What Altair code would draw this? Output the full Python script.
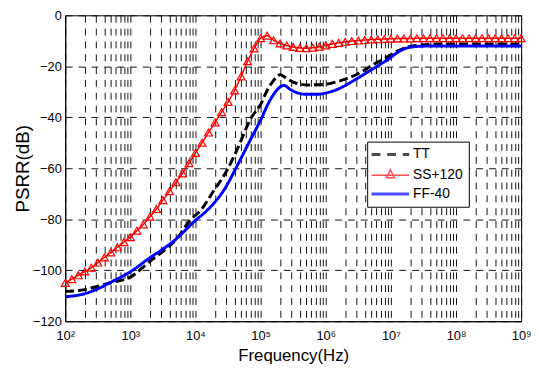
import altair as alt
import pandas as pd

# ---- data (log10 of frequency, dB) ----
series_names = ["TT", "SS+120", "FF-40"]
series_colors = ["#000000", "#ff0000", "#0000ff"]

tt_logf = [2.0, 2.3, 2.5, 2.7, 3.0, 3.3, 3.5, 3.7, 3.93, 4.08, 4.28, 4.48, 4.65, 4.86,
           5.0, 5.09, 5.2, 5.3, 5.4, 5.5, 5.6, 5.75, 5.9, 6.0, 6.15, 6.3, 6.45, 6.6,
           6.75, 6.9, 7.0, 7.1, 7.25, 7.4, 7.6, 8.0, 9.0]
tt_db = [-108.3, -107.6, -106.3, -104.9, -102.7, -96.5, -92.6, -88.0, -80.0, -76.5, -68.8,
         -61.0, -52.0, -40.0, -35.0, -30.0, -25.5, -23.3, -24.8, -26.2, -27.0, -27.3,
         -27.2, -27.0, -26.2, -25.0, -23.5, -21.4, -19.0, -17.0, -15.5, -14.0, -12.5,
         -11.8, -11.4, -11.2, -11.2]

ss_logf = [round(2.0 + 0.1 * i, 1) for i in range(71)]
ss_db = [-105.0, -103.5, -102.0, -100.5, -99.0, -97.0, -95.0, -93.0, -91.0, -89.0,
         -87.0, -84.5, -82.0, -79.0, -76.0, -72.5, -69.0, -65.5, -62.0, -58.0,
         -54.0, -50.0, -46.0, -42.0, -38.0, -34.0, -29.5, -24.0, -18.0, -13.0,
         -9.0, -8.0, -9.8, -11.0, -11.8, -12.4, -12.8, -12.9, -12.7, -12.3,
         -11.8, -11.2, -10.8, -10.4, -10.1, -9.9, -9.7, -9.5, -9.4, -9.3,
         -9.2, -9.1, -9.1, -9.1, -9.0, -9.0, -9.0, -9.0, -9.0, -9.0,
         -9.0, -9.0, -9.0, -9.0, -9.0, -9.0, -9.0, -9.0, -9.0, -9.0, -9.0]

ff_logf = [2.0, 2.3, 2.5, 2.7, 3.0, 3.3, 3.5, 3.7, 4.0, 4.15, 4.3, 4.45, 4.62, 4.82,
           5.02, 5.1, 5.2, 5.29, 5.36, 5.45, 5.55, 5.7, 5.85, 6.0, 6.2, 6.35, 6.5,
           6.7, 6.85, 6.95, 7.05, 7.16, 7.3, 7.5, 8.0, 9.0]
ff_db = [-110.4, -109.2, -107.3, -104.7, -100.6, -95.1, -91.7, -87.8, -80.4, -77.2,
         -73.2, -68.0, -60.0, -50.0, -40.0, -35.5, -31.0, -28.3, -27.5, -29.0, -30.3,
         -31.0, -31.0, -30.5, -28.8, -26.8, -24.5, -21.4, -19.0, -17.5, -15.5, -13.7,
         -12.5, -12.1, -12.0, -12.0]

x_decades = [2, 3, 4, 5, 6, 7, 8, 9]
y_ticks = [-120, -100, -80, -60, -40, -20, 0]

rows = []
for name, lf, db in [("TT", tt_logf, tt_db), ("SS+120", ss_logf, ss_db), ("FF-40", ff_logf, ff_db)]:
    for a, b in zip(lf, db):
        rows.append({"f": 10 ** a, "db": b, "series": name})
df = pd.DataFrame(rows)

x_grid_values = [m * 10 ** e for e in x_decades[:-1] for m in range(1, 10)] + [10 ** x_decades[-1]]

sup = "['\u2070','\u00b9','\u00b2','\u00b3','\u2074','\u2075','\u2076','\u2077','\u2078','\u2079']"
label_expr = ("abs(log(datum.value)/LN10 - round(log(datum.value)/LN10)) < 0.001 ? "
              "'10' + " + sup + "[round(log(datum.value)/LN10)] : ''")

FONT = "Liberation Sans"
GRID = "#111111"

x_enc = alt.X(
    "f:Q",
    scale=alt.Scale(type="log", domain=[100, 1e9], nice=False),
    axis=alt.Axis(values=x_grid_values, labelExpr=label_expr, title="Frequency(Hz)",
                  grid=True, gridDash=[7, 6], gridColor=GRID, gridWidth=1,
                  ticks=False, tickSize=0, labelOverlap=False, labelFlush=False,
                  labelPadding=9, labelFontSize=13, labelColor="black",
                  titleFontSize=17, titleFontWeight="normal", titleColor="black",
                  titlePadding=5, domainColor="black"),
)
y_enc = alt.Y(
    "db:Q",
    scale=alt.Scale(domain=[-120, 0], nice=False),
    axis=alt.Axis(values=y_ticks, title="PSRR(dB)", grid=True, gridDash=[7, 6],
                  gridColor=GRID, gridWidth=1, ticks=False, tickSize=0,
                  labelPadding=4, labelFontSize=13, labelColor="black",
                  titleFontSize=19, titleFontWeight="normal", titleColor="black",
                  titlePadding=0, domainColor="black"),
)

# legend symbols (unit = half of sqrt(symbolSize) = 8.5 px)
path_tt = "M-2.24,0L-0.88,0M-0.38,0L0.98,0M1.48,0L2.24,0"
path_ss = "M-2.24,0L2.24,0M0,-0.65L0.47,0.3L-0.47,0.3Z"
path_ff = "M-2.24,0L2.24,0"

legend = alt.Legend(
    orient="none", legendX=306, legendY=128, title=None,
    fillColor="white", strokeColor="black", padding=6,
    labelFontSize=14, labelColor="black", labelFont=FONT,
    symbolSize=289, symbolOffset=10.5, labelOffset=16,
    symbolStrokeWidth=alt.ExprRef(expr="datum.value === 'SS+120' ? 1.5 : 3"),
    rowPadding=5, symbolFillColor="transparent",
)

color_enc = alt.Color("series:N", scale=alt.Scale(domain=series_names, range=series_colors),
                      legend=legend)

lines = alt.Chart(df).transform_calculate(
    lw="datum.series === 'SS+120' ? 1.5 : 3"
).mark_line(interpolate="monotone").encode(
    x=x_enc, y=y_enc, color=color_enc,
    strokeDash=alt.StrokeDash("series:N", scale=alt.Scale(domain=series_names,
                              range=[[9, 4], [1, 0], [1, 0]]), legend=None),
    strokeWidth=alt.StrokeWidth("lw:Q", scale=None, legend=None),
)

triangles = alt.Chart(df).transform_filter(alt.datum.series == "SS+120").mark_point(
    shape="triangle-up", filled=False, size=65, strokeWidth=1.2, opacity=1, color="#ff0000"
).encode(x=x_enc, y=y_enc)

legend_carrier = alt.Chart(df).transform_filter("false").mark_point(filled=False).encode(
    x=x_enc, y=y_enc, color=color_enc,
    shape=alt.Shape("series:N", scale=alt.Scale(domain=series_names,
                    range=[path_tt, path_ss, path_ff]), legend=legend),
)

chart = alt.layer(lines, triangles, legend_carrier).properties(
    width=462, height=310,
    autosize=alt.AutoSizeParams(type="none"),
    padding={"left": 58, "top": 5, "right": 10, "bottom": 45},
    background="white",
).configure(font=FONT).configure_view(stroke="black", strokeWidth=1)

chart.save("out.html", embed_options={"renderer": "svg", "actions": False})
